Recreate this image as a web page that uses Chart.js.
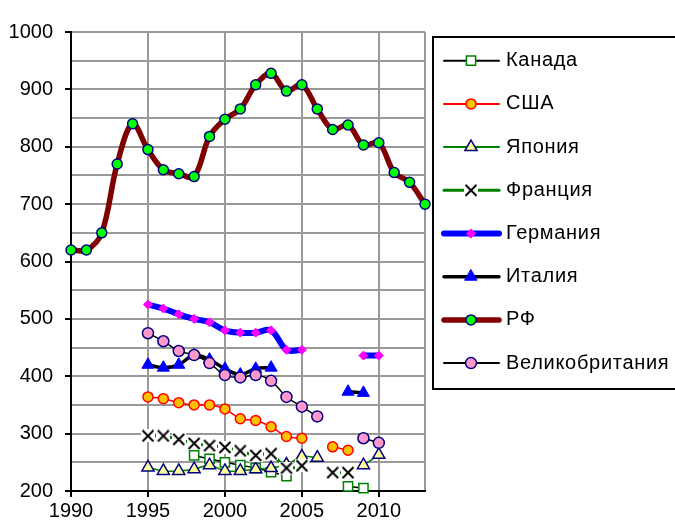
<!DOCTYPE html>
<html>
<head>
<meta charset="utf-8">
<script src="https://cdn.jsdelivr.net/npm/chart.js@4.4.1/dist/chart.umd.min.js"></script>
<style>
  body { margin: 0; background: #fff; }
  #wrap { width: 675px; height: 527px; }
</style>
</head>
<body>
<div id="wrap"><canvas id="chart" width="675" height="527"></canvas></div>
<script>
// Data
const years = [1990, 1991, 1992, 1993, 1994, 1995, 1996, 1997, 1998, 1999, 2000, 2001,
  2002, 2003, 2004, 2005, 2006, 2007, 2008, 2009, 2010, 2011, 2012, 2013];

const canada = [null, null, null, null, null, null, null, null, 262, 256, 250, 245,
  240, 233, 226, null, null, null, 208, 205, null, null, null, null];
const usa = [null, null, null, null, null, 364, 361, 354, 350, 350, 343, 326,
  323, 312, 295, 292, null, 277, 271, null, null, null, null, null];
const japan = [null, null, null, null, null, 241, 235, 235, 238, 245, 235, 235,
  238, 240, 246, 260, 258, null, null, 245, 263, null, null, null];
const france = [null, null, null, null, null, 296, 296, 290, 283, 279, 276, 270,
  262, 265, 240, 244, null, 232, 232, null, null, null, null, null];
const germany = [null, null, null, null, null, 525, 518, 508, 500, 494, 480, 476,
  476, 480, 446, 446, null, null, null, 436, 436, null, null, null];
const italy = [null, null, null, null, null, 420, 415, 420, 437, 429, 413, 403,
  413, 415, null, null, null, null, 373, 371, null, null, null, null];
const rf = [620, 620, 650, 770, 840, 795, 760, 753, 748, 818, 848, 866,
  908, 928, 897, 908, 866, 830, 838, 803, 807, 755, 738, 700];
const gb = [null, null, null, null, null, 475, 461, 444, 437, 423, 402, 398,
  402, 392, 364, 347, 330, null, null, 292, 284, null, null, null];

const seriesNames = ["Канада", "США", "Япония", "Франция", "Германия", "Италия", "РФ", "Великобритания"];
const seriesValues = [canada, usa, japan, france, germany, italy, rf, gb];

const xTickLabels = [1990, 1995, 2000, 2005, 2010];
const yTickLabels = [200, 300, 400, 500, 600, 700, 800, 900, 1000];

const FONT = '"Liberation Sans", Arial, sans-serif';

// white backed X marker (like the Excel one)
function crossMarker() {
  const c = document.createElement("canvas");
  c.width = 14;
  c.height = 13;
  const g = c.getContext("2d");
  g.fillStyle = "#fff";
  g.fillRect(0, 0, 14, 13);
  g.strokeStyle = "#000";
  g.lineWidth = 2;
  g.beginPath();
  g.moveTo(1.5, 1);
  g.lineTo(12.5, 12);
  g.moveTo(12.5, 1);
  g.lineTo(1.5, 12);
  g.stroke();
  return c;
}

// Styles, same order as seriesNames
const styles = [
  { line: "#000000", width: 1.5, point: "rect", r: 6.5, fill: "#ffffff", edge: "#008000", edgeW: 1.5 },
  { line: "#ff0000", width: 1.5, point: "circle", r: 5, fill: "#ffc000", edge: "#ff0000", edgeW: 1.5 },
  { line: "#008000", width: 1.5, point: "triangle", r: 7, fill: "#ffff99", edge: "#000080", edgeW: 1.5 },
  { line: "#008000", width: 3, point: crossMarker(), r: 6, fill: "#ffffff", edge: "#000000", edgeW: 1 },
  { line: "#0000ff", width: 6, point: "rectRot", r: 4.5, fill: "#ff00ff", edge: "#ff00ff", edgeW: 1 },
  { line: "#000000", width: 3.5, point: "triangle", r: 7, fill: "#0000ff", edge: "#0000ff", edgeW: 1 },
  { line: "#800000", width: 5.5, point: "circle", r: 5, fill: "#00ff00", edge: "#000080", edgeW: 1.5 },
  { line: "#000000", width: 1.5, point: "circle", r: 5.5, fill: "#ff99cc", edge: "#000080", edgeW: 1.5 },
];

const datasets = seriesNames.map((name, i) => {
  const s = styles[i];
  return {
    label: name,
    data: years.map((x, j) => ({ x: x, y: seriesValues[i][j] })),
    borderColor: s.line,
    borderWidth: s.width,
    borderCapStyle: "round",
    borderJoinStyle: "round",
    pointStyle: s.point,
    pointRadius: s.r,
    pointBackgroundColor: s.fill,
    pointBorderColor: s.edge,
    pointBorderWidth: s.edgeW,
    tension: 0.35,
    spanGaps: false,
    clip: false,
    order: seriesNames.length - i,
  };
});

function drawMarker(ctx, ds, x, y) {
  const st = ds.pointStyle;
  const r = ds.pointRadius;
  if (typeof st === "object") {
    ctx.drawImage(st, x - st.width / 2, y - st.height / 2);
    return;
  }
  ctx.beginPath();
  if (st === "circle") {
    ctx.arc(x, y, r, 0, Math.PI * 2);
  } else if (st === "rect") {
    const h = r * Math.SQRT1_2;
    ctx.rect(x - h, y - h, 2 * h, 2 * h);
  } else if (st === "triangle") {
    ctx.moveTo(x, y - r);
    ctx.lineTo(x + r * 0.866, y + r * 0.5);
    ctx.lineTo(x - r * 0.866, y + r * 0.5);
    ctx.closePath();
  } else if (st === "rectRot") {
    ctx.moveTo(x - r, y);
    ctx.lineTo(x, y - r);
    ctx.lineTo(x + r, y);
    ctx.lineTo(x, y + r);
    ctx.closePath();
  }
  ctx.fillStyle = ds.pointBackgroundColor;
  ctx.fill();
  ctx.lineWidth = ds.pointBorderWidth;
  ctx.strokeStyle = ds.pointBorderColor;
  ctx.stroke();
}

// Legend with line + marker samples inside a box
const boxLegend = {
  id: "boxLegend",
  afterDraw(chart) {
    const ctx = chart.ctx;
    ctx.save();
    ctx.strokeStyle = "#000";
    ctx.lineWidth = 2;
    ctx.strokeRect(433, 37, 300, 352);
    ctx.font = "20px " + FONT;
    ctx.letterSpacing = "0.7px";
    ctx.textBaseline = "middle";
    ctx.lineCap = "round";
    chart.data.datasets.forEach((ds, i) => {
      const y = 60.7 + i * 43.2;
      ctx.strokeStyle = ds.borderColor;
      ctx.lineWidth = Math.max(ds.borderWidth, 2);
      ctx.beginPath();
      ctx.moveTo(444, y);
      ctx.lineTo(499, y);
      ctx.stroke();
      drawMarker(ctx, ds, 471, y);
      ctx.fillStyle = "#000";
      ctx.fillText(ds.label, 506, y);
    });
    ctx.restore();
  },
};

new Chart(document.getElementById("chart"), {
  type: "line",
  data: { datasets: datasets },
  plugins: [boxLegend],
  options: {
    responsive: false,
    animation: false,
    devicePixelRatio: 1,
    layout: { padding: { left: 0, top: 32, right: 250, bottom: 0 } },
    plugins: { legend: { display: false }, tooltip: { enabled: false } },
    scales: {
      x: {
        type: "linear",
        min: 1990,
        max: 2013,
        afterBuildTicks: (s) => {
          s.ticks = xTickLabels.concat([2013]).map((v) => ({ value: v }));
        },
        afterFit: (s) => { s.height = 36; },
        ticks: {
          autoSkip: false,
          maxRotation: 0,
          padding: 2,
          color: "#000",
          font: { family: FONT, size: 20 },
          callback: (v) => (xTickLabels.includes(v) ? String(v) : ""),
        },
        grid: {
          color: "#999999",
          lineWidth: 2,
          tickLength: 6,
          tickWidth: 2,
          tickColor: (c) => (c.tick && xTickLabels.includes(c.tick.value) ? "#000" : "rgba(0,0,0,0)"),
        },
        border: { color: "#000", width: 2 },
      },
      y: {
        min: 200,
        max: 1000,
        afterFit: (s) => { s.width = 71; },
        ticks: {
          stepSize: 50,
          autoSkip: false,
          padding: 12,
          color: "#000",
          font: { family: FONT, size: 20 },
          callback: (v) => (yTickLabels.includes(v) ? String(v) : ""),
        },
        grid: {
          color: "#999999",
          lineWidth: 2,
          tickLength: 6,
          tickWidth: 2,
          tickColor: (c) => (c.tick && yTickLabels.includes(c.tick.value) ? "#000" : "rgba(0,0,0,0)"),
        },
        border: { color: "#000", width: 2 },
      },
    },
  },
});
</script>
</body>
</html>
